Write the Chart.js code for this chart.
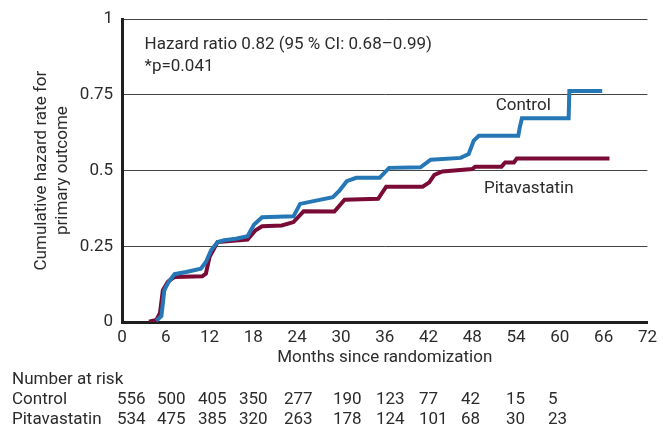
<!DOCTYPE html>
<html>
<head>
<meta charset="utf-8">
<script src="https://cdn.jsdelivr.net/npm/chart.js@4"></script>
<style>
  html, body { margin: 0; padding: 0; background: #fff; }
  #wrap { width: 663px; height: 428px; }
</style>
</head>
<body>
<div id="wrap"><canvas id="hazardChart" width="663" height="428"></canvas></div>
<script>
// months since randomization / cumulative hazard
const controlMonths = [4.7, 5.4, 5.8, 6.4, 7.2, 8.8, 10.8, 11.5, 12.2, 13.1, 14.0, 15.6, 17.2, 18.1, 19.2, 23.5, 24.4, 26.4, 28.9, 29.8, 30.8, 32.1, 35.3, 36.6, 40.9, 42.3, 46.4, 47.5, 48.2, 48.9, 54.3, 54.5, 54.8, 61.2, 61.3, 65.8];
const controlRate = [0.004, 0.02, 0.105, 0.133, 0.158, 0.165, 0.176, 0.198, 0.237, 0.264, 0.27, 0.275, 0.283, 0.322, 0.346, 0.349, 0.39, 0.40, 0.412, 0.434, 0.465, 0.476, 0.476, 0.509, 0.511, 0.536, 0.542, 0.555, 0.599, 0.615, 0.615, 0.642, 0.673, 0.673, 0.763, 0.763];

const pitaMonths = [3.7, 4.7, 5.2, 5.6, 6.3, 7.2, 11.0, 11.5, 12.0, 13.1, 17.2, 18.3, 19.2, 21.9, 23.5, 24.9, 29.1, 30.5, 35.1, 36.2, 41.2, 42.1, 42.8, 43.9, 48.0, 48.4, 52.0, 52.5, 53.7, 54.1, 66.8];
const pitaRate = [0.001, 0.007, 0.029, 0.105, 0.133, 0.149, 0.151, 0.16, 0.215, 0.264, 0.272, 0.303, 0.316, 0.319, 0.33, 0.366, 0.365, 0.404, 0.407, 0.447, 0.447, 0.461, 0.486, 0.497, 0.505, 0.513, 0.513, 0.527, 0.527, 0.54, 0.54];

const xTicks = [0, 6, 12, 18, 24, 30, 36, 42, 48, 54, 60, 66, 72];
const yTicks = [0, 0.25, 0.5, 0.75, 1];

const riskLabels = ['Control', 'Pitavastatin'];
const riskControl = [556, 500, 405, 350, 277, 190, 123, 77, 42, 15, 5];
const riskPita = [534, 475, 385, 320, 263, 178, 124, 101, 68, 30, 23];
// left edge of each at-risk column (the table is not aligned to the ticks)
const riskColX = [117, 157, 198, 239, 284, 333, 376, 419, 461, 506, 548];

const FONT = 'Roboto, "Liberation Sans", sans-serif';
const TEXT = '#2b2b2b';

const toPoints = (xs, ys) => xs.map((x, i) => ({ x: x, y: ys[i] }));

const textPlugin = {
  id: 'extraText',
  afterDraw(chart) {
    const ctx = chart.ctx;
    const xs = chart.scales.x;
    const ys = chart.scales.y;
    ctx.save();
    ctx.fillStyle = TEXT;
    ctx.font = '17px ' + FONT;
    ctx.textBaseline = 'middle';
    ctx.textAlign = 'left';
    ctx.fillText('Hazard ratio 0.82 (95 % CI: 0.68\u20130.99)', xs.getPixelForValue(3.1), ys.getPixelForValue(0.914));
    ctx.fillText('*p=0.041', xs.getPixelForValue(3.1), ys.getPixelForValue(0.842));
    ctx.fillText('Control', xs.getPixelForValue(51.2), ys.getPixelForValue(0.714));
    ctx.fillText('Pitavastatin', xs.getPixelForValue(49.6), ys.getPixelForValue(0.441));

    // number at risk table
    ctx.fillText('Number at risk', 12, 380);
    ctx.fillText(riskLabels[0], 12, 400);
    ctx.fillText(riskLabels[1], 12, 420);
    riskControl.forEach((v, i) => ctx.fillText(String(v), riskColX[i], 400));
    riskPita.forEach((v, i) => ctx.fillText(String(v), riskColX[i], 420));
    ctx.restore();
  }
};

new Chart(document.getElementById('hazardChart'), {
  type: 'line',
  data: {
    datasets: [
      {
        label: 'Control',
        data: toPoints(controlMonths, controlRate),
        borderColor: '#2677b5',
        borderWidth: 4,
        pointRadius: 0,
        tension: 0,
        fill: false,
      },
      {
        label: 'Pitavastatin',
        data: toPoints(pitaMonths, pitaRate),
        borderColor: '#7a0b37',
        borderWidth: 4,
        pointRadius: 0,
        tension: 0,
        fill: false,
      }
    ]
  },
  options: {
    responsive: false,
    animation: false,
    layout: { padding: { left: 0, right: 11, top: 18, bottom: 0 } },
    plugins: {
      legend: { display: false },
      tooltip: { enabled: false }
    },
    scales: {
      x: {
        type: 'linear',
        min: 0,
        max: 72,
        afterBuildTicks: (s) => { s.ticks = xTicks.map(v => ({ value: v })); },
        afterFit: (s) => { s.height = 106; },
        grid: { display: false, drawTicks: false },
        border: { display: true, color: '#1f1f1f', width: 3 },
        ticks: { color: TEXT, font: { size: 17, family: FONT }, padding: 6, maxRotation: 0, autoSkip: false },
        title: {
          display: true,
          text: 'Months since randomization',
          color: TEXT,
          font: { size: 17, family: FONT },
          padding: { top: 0, bottom: 60 }
        }
      },
      y: {
        min: 0,
        max: 1,
        afterBuildTicks: (s) => { s.ticks = yTicks.map(v => ({ value: v })); },
        afterFit: (s) => { s.width = 122; },
        grid: { color: '#444', lineWidth: 1, drawTicks: false },
        border: { display: true, color: '#1f1f1f', width: 3 },
        ticks: { color: TEXT, font: { size: 17, family: FONT }, padding: 9, callback: (v) => String(v) },
        title: {
          display: true,
          text: ['Cumulative hazard rate for', 'primary outcome'],
          color: TEXT,
          font: { size: 17, family: FONT },
          padding: { top: 32, bottom: 0 }
        }
      }
    }
  },
  plugins: [textPlugin]
});
</script>
</body>
</html>
